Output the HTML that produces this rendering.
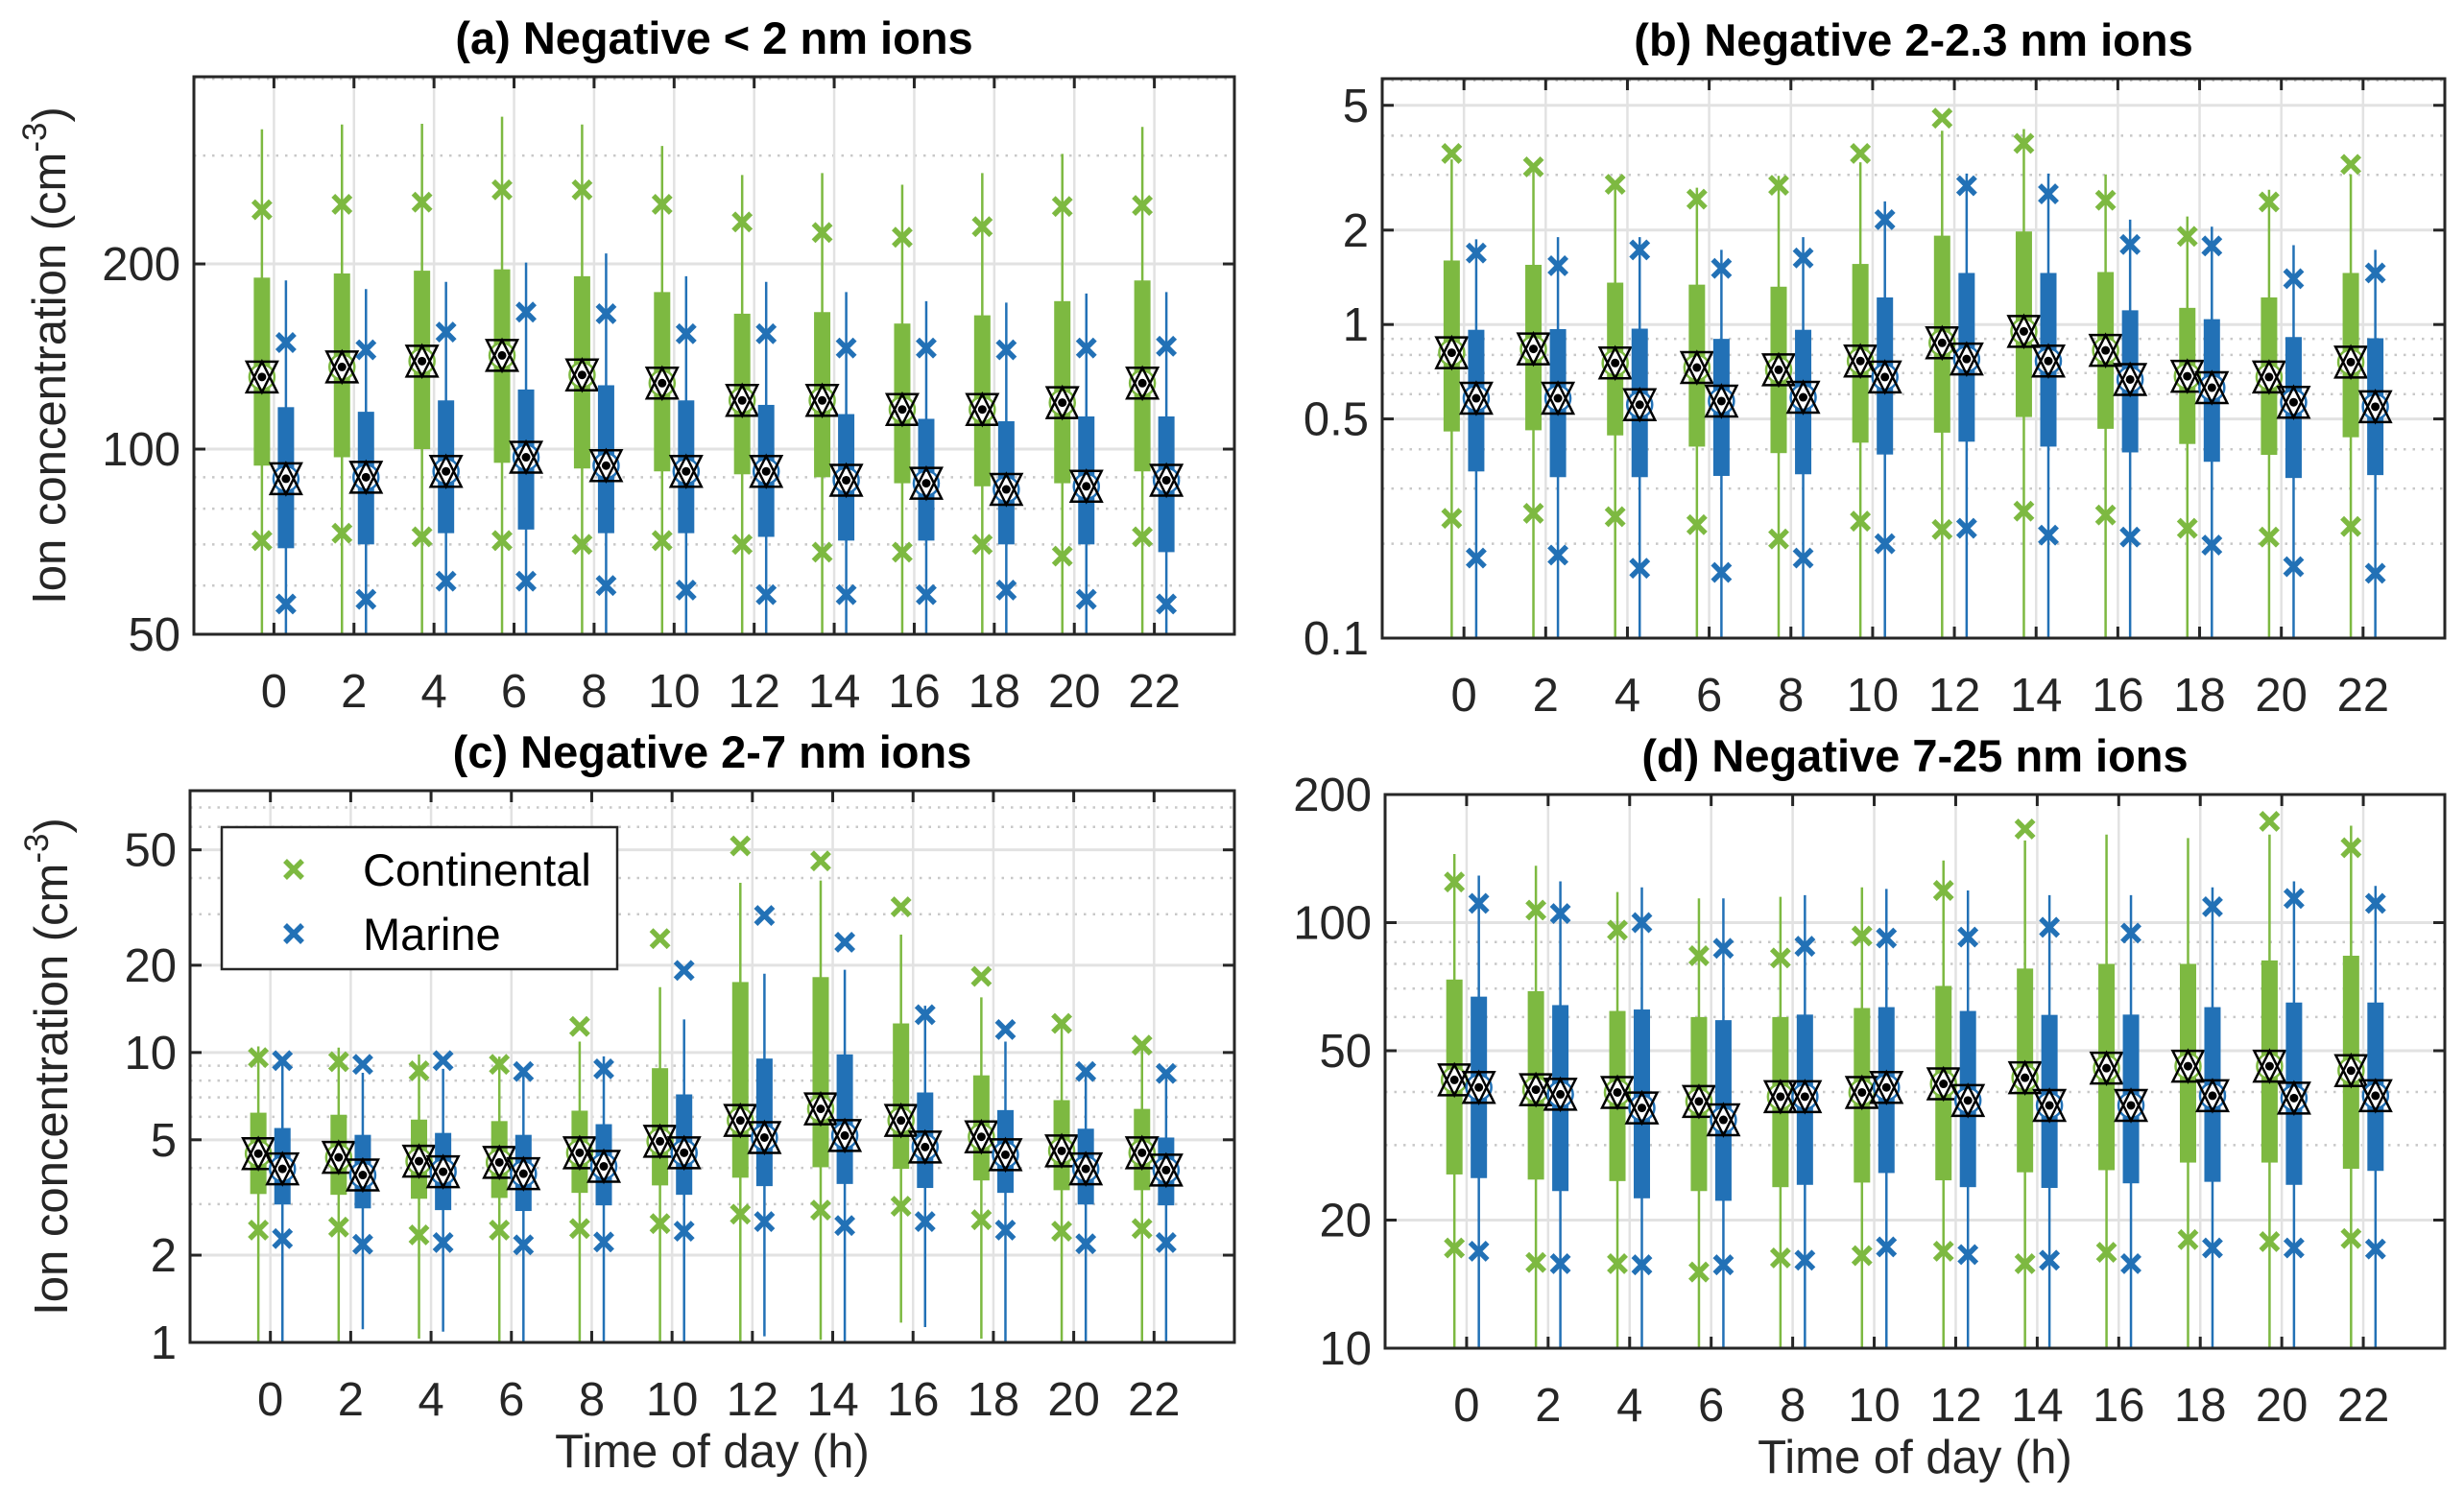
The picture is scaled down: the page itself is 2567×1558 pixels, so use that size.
<!DOCTYPE html>
<html><head><meta charset="utf-8"><style>
html,body{margin:0;padding:0;background:#fff;}
svg{display:block;font-family:"Liberation Sans",sans-serif;}
</style></head><body>
<svg id="fig" width="2567" height="1558" viewBox="0 0 2567 1558" xmlns="http://www.w3.org/2000/svg"></svg>
<script>
const hours=[0,2,4,6,8,10,12,14,16,18,20,22];
// Panel a
const aGq1=[94,97,100,95,93,92,91,90,88,87,88,92];
const aGmed=[131,136,139,142,132,128,120,120,116,116,119,128];
const aGq3=[190,193,195,196,191,180,166,167,160,165,174,188];
const aGwlo=[50,50,50,50,50,50,50,50,50,50,50,50];
const aGwhi=[331,337,338,347,337,311,279,281,269,281,302,334];
const aGxlo=[71,73,72,71,70,71,70,68,68,70,67,72];
const aGxhi=[245,250,252,264,264,250,234,225,221,230,248,249];
const aBq1=[69,70,73,74,73,73,72,71,71,70,70,68];
const aBmed=[89.5,90,92,97,94,92,92,89,88,86,87,89];
const aBq3=[117,115,120,125,127,120,118,114,112,111,113,113];
const aBwlo=[50,50,50,50,50,50,50,50,50,50,50,50];
const aBwhi=[188,182,187,201,208,191,187,180,174,173,179,180];
const aBxlo=[56,57,61,61,60,59,58,58,58,59,57,56];
const aBxhi=[149,145,155,167,166,154,154,146,146,145,146,147];
// Panel b
const bGq1=[.456,.46,.443,.408,.389,.42,.452,.507,.465,.416,.384,.437];
const bGmed=[.813,.836,.754,.729,.717,.765,.874,.951,.827,.684,.68,.759];
const bGq3=[1.6,1.55,1.36,1.34,1.32,1.56,1.92,1.98,1.47,1.13,1.22,1.46];
const bGwlo=[.1,.1,.1,.1,.1,.1,.1,.1,.1,.1,.1,.1];
const bGwhi=[3.36,3.16,2.84,2.73,2.98,3.29,4.15,4.2,3.01,2.21,2.69,3.01];
const bGxlo=[.241,.25,.244,.23,.207,.236,.222,.254,.247,.224,.21,.227];
const bGxhi=[3.51,3.18,2.8,2.51,2.78,3.51,4.55,3.78,2.49,1.91,2.46,3.24];
const bBq1=[.34,.326,.326,.329,.333,.385,.423,.408,.391,.365,.324,.331];
const bBmed=[.582,.582,.555,.57,.586,.68,.776,.765,.668,.629,.565,.547];
const bBq3=[.962,.967,.97,.9,.962,1.22,1.46,1.46,1.11,1.04,.912,.904];
const bBwlo=[.1,.1,.1,.1,.1,.1,.1,.1,.1,.1,.1,.1];
const bBwhi=[1.87,1.9,1.9,1.73,1.9,2.47,3.03,3.03,2.16,2.05,1.79,1.73];
const bBxlo=[.18,.184,.167,.162,.18,.2,.224,.213,.21,.198,.169,.161];
const bBxhi=[1.69,1.54,1.73,1.51,1.63,2.16,2.77,2.61,1.8,1.78,1.4,1.46];
// Panel c
const cGq1=[3.25,3.23,3.13,3.15,3.28,3.48,3.7,4.02,3.97,3.62,3.35,3.35];
const cGmed=[4.48,4.35,4.22,4.18,4.51,4.94,5.83,6.39,5.83,5.12,4.58,4.51];
const cGq3=[6.2,6.1,5.87,5.8,6.3,8.83,17.5,18.2,12.6,8.34,6.85,6.39];
const cGwlo=[1,1,1.03,1,1,1,1,1.02,1.17,1.03,1,1];
const cGwhi=[10.5,10.4,9.85,9.68,10.9,16.8,38.5,39.2,25.5,15.5,12.6,10.3];
const cGxlo=[2.44,2.5,2.35,2.44,2.47,2.57,2.77,2.86,2.95,2.65,2.42,2.47];
const cGxhi=[9.6,9.3,8.65,9.1,12.3,24.7,51.6,45.8,31.8,18.3,12.6,10.6];
const cBq1=[2.99,2.9,2.86,2.84,2.97,3.23,3.46,3.52,3.41,3.28,2.99,2.97];
const cBmed=[3.97,3.78,3.88,3.82,4.05,4.51,5.09,5.17,4.72,4.44,3.97,3.93];
const cBq3=[5.49,5.2,5.28,5.2,5.66,7.17,9.53,9.85,7.28,6.33,5.46,5.09];
const cBwlo=[1,1.11,1.09,1,1,1,1.05,1,1.13,1,1,1];
const cBwhi=[9.33,8.51,8.78,8.78,9.7,13,18.7,19.3,14.5,10.9,8.65,8.65];
const cBxlo=[2.28,2.18,2.21,2.17,2.22,2.42,2.61,2.53,2.61,2.44,2.19,2.21];
const cBxhi=[9.38,9.1,9.38,8.6,8.78,19.2,29.7,24,13.5,12,8.6,8.47];
// Panel d
const dGq1=[25.6,24.9,24.7,23.4,23.9,24.5,24.8,25.9,26.2,27.3,27.3,26.4];
const dGmed=[42.7,40.5,39.9,38,39,39.9,41.8,43.2,45.5,46,46,44.9];
const dGq3=[73.5,69,62,60,60,63,71,78,80,80,81.5,83.6];
const dGwlo=[10,10,10,10,10,10,10,10,10,10,10,10];
const dGwhi=[145,136,118,114,115,121,140,156,161,158,161,169];
const dGxlo=[17.2,15.9,15.8,15.1,16.3,16.5,16.9,15.8,16.8,18,17.8,18.1];
const dGxhi=[124.6,107,96,83.6,82.6,93,119,166,null,null,173,150];
const dBq1=[25.1,23.4,22.5,22.2,24.2,25.8,23.9,23.8,24.4,24.6,24.2,26.1];
const dBmed=[41,39.5,36.7,34.4,39,41,38.2,37.2,37.2,39.2,38.7,39.2];
const dBq3=[67,64,62.5,59,60.8,63.3,62,60.7,60.8,63.3,64.9,64.9];
const dBwlo=[10,10,10,10,10,10,10,10,10,10,10,10];
const dBwhi=[129,125,121,114,116,120,119,116,116,121,125,122];
const dBxlo=[16.9,15.8,15.7,15.7,16.1,17.3,16.6,16.1,15.8,17.2,17.2,17.1];
const dBxhi=[111,105,100,87,88,92,92.5,97.5,94.5,109,114,111];

const GREEN='#7db941', BLUE='#2271b6';
const svg=document.getElementById('fig');
const NS='http://www.w3.org/2000/svg';
function mk(tag,attrs,parent){const e=document.createElementNS(NS,tag);for(const k in attrs)e.setAttribute(k,attrs[k]);(parent||svg).appendChild(e);return e;}

function panel(p){
  const g=mk('g',{});
  
  
  const L=p.L,R=p.R,T=p.T,B=p.B;
  const lmin=Math.log10(p.min),lmax=Math.log10(p.max);
  const y=v=>B-(Math.log10(v)-lmin)/(lmax-lmin)*(B-T);
  const unit=(R-L)/13;
  const x=i=>L+(i+1)*unit;
  let dec=Math.floor(lmin);
  for(let d=dec;d<=Math.ceil(lmax);d++){
    for(let m=1;m<10;m++){
      const v=m*Math.pow(10,d);
      if(v<=p.min*1.0001||v>p.max*1.0001)continue;
      if(p.major.some(t=>Math.abs(t-v)/v<1e-6))continue;
      const ln=mk('line',{x1:L,x2:R,y1:y(v),y2:y(v),stroke:'#c8c8c8','stroke-width':2.5,'stroke-dasharray':'2.5 7'},g);
      
      
    }
  }
  p.major.forEach(v=>{
    const ln=mk('line',{x1:L,x2:R,y1:y(v),y2:y(v),stroke:'#e2e2e2','stroke-width':3},g);
    
    
  });
  hours.forEach((h,i)=>{
    const ln=mk('line',{x1:x(i),x2:x(i),y1:T,y2:B,stroke:'#e2e2e2','stroke-width':2.5},g);
    
    
  });
  const series=[{c:GREEN,off:-0.15,d:p.G,n:'continental'},{c:BLUE,off:0.15,d:p.Bl,n:'marine'}];
  series.forEach(s=>{
    hours.forEach((h,i)=>{
      const cx=x(i)+s.off*unit;
      const wl=mk('line',{x1:cx,x2:cx,y1:y(s.d.wlo[i]),y2:y(s.d.whi[i]),stroke:s.c,'stroke-width':2.5},g);
      
      
      const bx=mk('rect',{x:cx-8.5,width:17,y:y(s.d.q3[i]),height:y(s.d.q1[i])-y(s.d.q3[i]),fill:s.c},g);
      
      
      [s.d.xhi[i],s.d.xlo[i]].forEach(v=>{
        if(v==null)return;
        const yy=y(v),r=9;
        const px=mk('path',{d:`M${cx-r},${yy-r}L${cx+r},${yy+r}M${cx-r},${yy+r}L${cx+r},${yy-r}`,stroke:s.c,'stroke-width':5.5,fill:'none'},g);
        
        
      });
      const my=y(s.d.med[i]);
      const mg=mk('g',{},g);
      
      
      mk('circle',{cx:cx,cy:my,r:13,fill:'#fff',stroke:s.c,'stroke-width':2.5},mg);
      mk('path',{d:`M${cx-16},${my-16}L${cx+16},${my-16}L${cx},${my+16}Z M${cx-16},${my+16}L${cx+16},${my+16}L${cx},${my-16}Z`,fill:'none',stroke:'#000','stroke-width':2.5},mg);
      mk('circle',{cx:cx,cy:my,r:4.5,fill:'#000'},mg);
    });
  });
  const bxr=mk('rect',{x:L,y:T,width:R-L,height:B-T,fill:'none',stroke:'#262626','stroke-width':3},g);
  
  
  hours.forEach((h,i)=>{
    mk('line',{x1:x(i),x2:x(i),y1:B,y2:B-12,stroke:'#262626','stroke-width':3},g);
    mk('line',{x1:x(i),x2:x(i),y1:T,y2:T+12,stroke:'#262626','stroke-width':3},g);
    const t=mk('text',{x:x(i),y:B+76,'text-anchor':'middle','font-size':49,fill:'#262626'},g);
    t.textContent=h;
    
    
  });
  p.major.forEach((v,k)=>{
    mk('line',{x1:L,x2:L+12,y1:y(v),y2:y(v),stroke:'#262626','stroke-width':3},g);
    mk('line',{x1:R,x2:R-12,y1:y(v),y2:y(v),stroke:'#262626','stroke-width':3},g);
    const t=mk('text',{x:L-14,y:y(v)+17,'text-anchor':'end','font-size':49,fill:'#262626'},g);
    t.textContent=p.labels[k];
    
    
  });
  const tt=mk('text',{x:(L+R)/2,y:T-24,'text-anchor':'middle','font-size':47,'font-weight':'bold',fill:'#000'},g);
  tt.textContent=p.title;
  
  
  if(p.ylab){
    const yl=mk('text',{x:0,y:0,transform:`translate(${p.ylabX},${(T+B)/2}) rotate(-90)`,'text-anchor':'middle','font-size':49,fill:'#262626'},g);
    
    
    yl.innerHTML='Ion concentration (cm<tspan dy="-20" font-size="35">-3</tspan><tspan dy="20">)</tspan>';
  }
  if(p.xlab){
    const xl=mk('text',{x:(L+R)/2,y:B+130,'text-anchor':'middle','font-size':49,fill:'#262626'},g);
    xl.textContent='Time of day (h)';
    
    
  }
}
function S(q1,med,q3,wlo,whi,xlo,xhi){return {q1,med,q3,wlo,whi,xlo,xhi};}
panel({id:'a',L:202,R:1286,T:80,B:661,min:50,max:403,major:[50,100,200],labels:['50','100','200'],title:'(a) Negative < 2 nm ions',ylab:true,ylabX:68,
  G:S(aGq1,aGmed,aGq3,aGwlo,aGwhi,aGxlo,aGxhi),Bl:S(aBq1,aBmed,aBq3,aBwlo,aBwhi,aBxlo,aBxhi)});
panel({id:'b',L:1440,R:2547,T:82,B:665,min:0.1,max:6.08,major:[0.1,0.5,1,2,5],labels:['0.1','0.5','1','2','5'],title:'(b) Negative 2-2.3 nm ions',
  G:S(bGq1,bGmed,bGq3,bGwlo,bGwhi,bGxlo,bGxhi),Bl:S(bBq1,bBmed,bBq3,bBwlo,bBwhi,bBxlo,bBxhi)});
panel({id:'c',L:198,R:1286,T:824,B:1399,min:1,max:80,major:[1,2,5,10,20,50],labels:['1','2','5','10','20','50'],title:'(c) Negative 2-7 nm ions',ylab:true,ylabX:70,xlab:true,
  G:S(cGq1,cGmed,cGq3,cGwlo,cGwhi,cGxlo,cGxhi),Bl:S(cBq1,cBmed,cBq3,cBwlo,cBwhi,cBxlo,cBxhi)});
panel({id:'d',L:1443,R:2547,T:828,B:1405,min:10,max:200,major:[10,20,50,100,200],labels:['10','20','50','100','200'],title:'(d) Negative 7-25 nm ions',xlab:true,
  G:S(dGq1,dGmed,dGq3,dGwlo,dGwhi,dGxlo,dGxhi),Bl:S(dBq1,dBmed,dBq3,dBwlo,dBwhi,dBxlo,dBxhi)});
const lg=mk('g',{});


mk('rect',{x:231,y:862,width:412,height:148,fill:'#fff',stroke:'#262626','stroke-width':2.5},lg);
[['Continental',GREEN,906],['Marine',BLUE,973]].forEach(([n,c,yy])=>{
  const e=mk('g',{},lg);
  
  
  const cx=306,r=9;
  mk('path',{d:`M${cx-r},${yy-r}L${cx+r},${yy+r}M${cx-r},${yy+r}L${cx+r},${yy-r}`,stroke:c,'stroke-width':5.5,fill:'none'},e);
  const t=mk('text',{x:378,y:yy+17,'font-size':47,fill:'#000'},e);
  t.textContent=n;
});
</script>
</body></html>
